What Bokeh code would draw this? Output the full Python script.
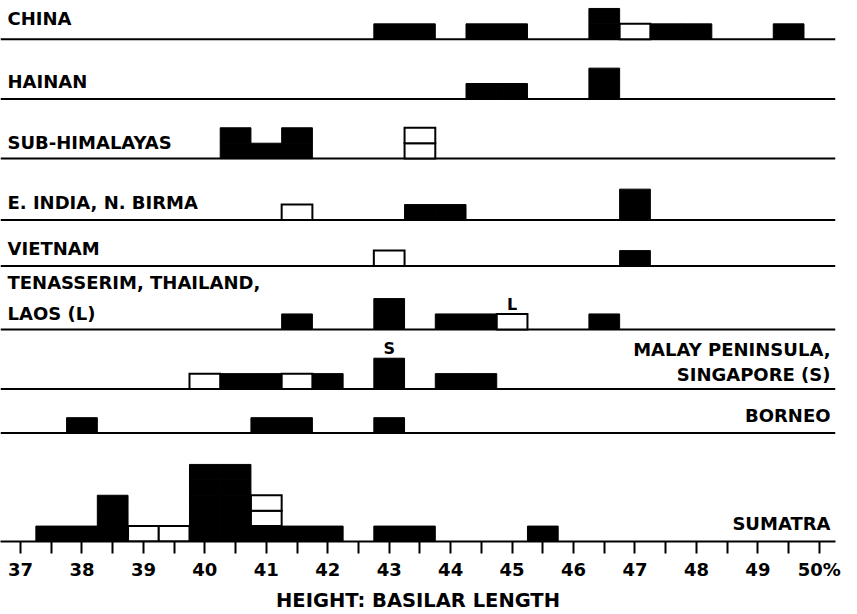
from bokeh.plotting import figure
from bokeh.models import Range1d, FixedTicker, ColumnDataSource
from bokeh.core.properties import value
from bokeh.embed import file_html
from bokeh.resources import INLINE

# ---------------- data ----------------
regions = ["CHINA", "HAINAN", "SUB-HIMALAYAS", "E. INDIA, N. BIRMA", "VIETNAM",
           "TENASSERIM, THAILAND, LAOS (L)", "MALAY PENINSULA, SINGAPORE (S)",
           "BORNEO", "SUMATRA"]

china_bins = [43, 43.5, 44.5, 45, 46.5, 47, 47.5, 48, 49.5]
china_black = [1, 1, 1, 1, 2, 0, 1, 1, 1]
china_white = [0, 0, 0, 0, 0, 1, 0, 0, 0]

hainan_bins = [44.5, 45, 46.5]
hainan_black = [1, 1, 2]
hainan_white = [0, 0, 0]

subhim_bins = [40.5, 41, 41.5, 43.5]
subhim_black = [2, 1, 2, 0]
subhim_white = [0, 0, 0, 2]

eindia_bins = [41.5, 43.5, 44, 47]
eindia_black = [0, 1, 1, 2]
eindia_white = [1, 0, 0, 0]

vietnam_bins = [43, 47]
vietnam_black = [0, 1]
vietnam_white = [1, 0]

tenass_bins = [41.5, 43, 44, 44.5, 45, 46.5]
tenass_black = [1, 2, 1, 1, 0, 1]
tenass_white = [0, 0, 0, 0, 1, 0]

malay_bins = [40, 40.5, 41, 41.5, 42, 43, 44, 44.5]
malay_black = [0, 1, 1, 0, 1, 2, 1, 1]
malay_white = [1, 0, 0, 1, 0, 0, 0, 0]

borneo_bins = [38, 41, 41.5, 43]
borneo_black = [1, 1, 1, 1]
borneo_white = [0, 0, 0, 0]

sumatra_bins = [37.5, 38, 38.5, 39, 39.5, 40, 40.5, 41, 41.5, 42, 43, 43.5, 45.5]
sumatra_black = [1, 1, 3, 0, 0, 5, 5, 1, 1, 1, 1, 1, 1]
sumatra_white = [0, 0, 0, 1, 1, 0, 0, 2, 0, 0, 0, 0, 0]

series = [
    (china_bins, china_black, china_white),
    (hainan_bins, hainan_black, hainan_white),
    (subhim_bins, subhim_black, subhim_white),
    (eindia_bins, eindia_black, eindia_white),
    (vietnam_bins, vietnam_black, vietnam_white),
    (tenass_bins, tenass_black, tenass_white),
    (malay_bins, malay_black, malay_white),
    (borneo_bins, borneo_black, borneo_white),
    (sumatra_bins, sumatra_black, sumatra_white),
]

bin_width = 0.5
tick_values = list(range(37, 51))
tick_labels = {50: "50%"}

label_lines = [["CHINA"], ["HAINAN"], ["SUB-HIMALAYAS"], ["E. INDIA, N. BIRMA"], ["VIETNAM"],
               ["TENASSERIM, THAILAND,", "LAOS (L)"], ["MALAY PENINSULA,", "SINGAPORE (S)"],
               ["BORNEO"], ["SUMATRA"]]

# marks: (letter, region index, bin)
marks = [("L", 5, 45), ("S", 6, 43)]

x_title = "HEIGHT: BASILAR LENGTH"

# ---------------- layout ----------------
W, H = 857, 614
X0, X1 = 36.6745, 50.2629
FRAME_H = 544
UNIT = 15.5                      # px per specimen
row_base = [505, 445, 385, 323.3, 277, 213.3, 153.3, 109, 0]
label_side = ["left"] * 6 + ["right"] * 3
label_offsets = [[13], [10], [9], [10], [10.5], [40, 8.5], [32.7, 6.7], [10], [11]]
TEXT_DY = 7.5                    # correction for text baseline placement

p = figure(width=W, height=H, x_range=Range1d(X0, X1), y_range=Range1d(0, FRAME_H),
           output_backend="svg", toolbar_location=None, y_axis_location=None,
           min_border_left=0, min_border_right=22, min_border_top=0, min_border_bottom=70)
p.grid.visible = False
p.outline_line_color = None
p.background_fill_color = "white"

ax = p.xaxis[0]
ax.ticker = FixedTicker(ticks=tick_values, minor_ticks=[t + 0.5 for t in tick_values[:-1]])
ax.major_label_overrides = tick_labels
ax.axis_line_width = 2
ax.axis_line_color = "black"
ax.major_tick_line_width = 2
ax.minor_tick_line_width = 2
ax.major_tick_in = 0
ax.minor_tick_in = 0
ax.major_tick_out = 12
ax.minor_tick_out = 12
ax.major_label_standoff = 5
ax.major_label_text_font = "DejaVu Sans"
ax.major_label_text_font_style = "bold"
ax.major_label_text_font_size = "18px"
ax.major_label_text_color = "black"
ax.axis_label = x_title
ax.axis_label_standoff = 6
ax.axis_label_text_font = "DejaVu Sans"
ax.axis_label_text_font_style = "bold"
ax.axis_label_text_font_size = "19.5px"
ax.axis_label_text_color = "black"

# baselines for rows above the axis
bx0, bx1, by = [], [], []
for base in row_base[:-1]:
    bx0.append(X0)
    bx1.append(X1)
    by.append(base)
p.segment(x0=bx0, y0=by, x1=bx1, y1=by, line_color="black", line_width=2)

# unit squares
blk = dict(left=[], right=[], bottom=[], top=[])
wht = dict(left=[], right=[], bottom=[], top=[])
for (bins, black, white), base in zip(series, row_base):
    for b, nb, nw in zip(bins, black, white):
        for k in range(nb + nw):
            d = blk if k < nb else wht
            d["left"].append(b - bin_width / 2)
            d["right"].append(b + bin_width / 2)
            d["bottom"].append(base + k * UNIT)
            d["top"].append(base + (k + 1) * UNIT)
p.quad(source=ColumnDataSource(blk), left="left", right="right", bottom="bottom", top="top",
       fill_color="black", line_color="black", line_width=1)
p.quad(source=ColumnDataSource(wht), left="left", right="right", bottom="bottom", top="top",
       fill_color="white", line_color="black", line_width=2, line_join="miter")

# region labels
for lines, offs, side, base in zip(label_lines, label_offsets, label_side, row_base):
    for txt, off in zip(lines, offs):
        if side == "left":
            p.text(x=[X0], y=[base + off + TEXT_DY], text=[txt], x_offset=7,
                   text_font=value("DejaVu Sans"), text_font_style="bold",
                   text_font_size="18px", text_align="left", text_baseline="alphabetic",
                   text_color="black")
        else:
            p.text(x=[X1], y=[base + off + TEXT_DY], text=[txt], x_offset=-5,
                   text_font=value("DejaVu Sans"), text_font_style="bold",
                   text_font_size="18px", text_align="right", text_baseline="alphabetic",
                   text_color="black")

# S / L marks above bars
for letter, ri, b in marks:
    bins, black, white = series[ri]
    j = bins.index(b)
    top = row_base[ri] + (black[j] + white[j]) * UNIT
    p.text(x=[b], y=[top + 3 + TEXT_DY * 0.9], text=[letter], text_font=value("DejaVu Sans"),
           text_font_style="bold", text_font_size="16px", text_align="center",
           text_baseline="alphabetic", text_color="black")

open("out.html", "w").write(file_html(p, INLINE))
